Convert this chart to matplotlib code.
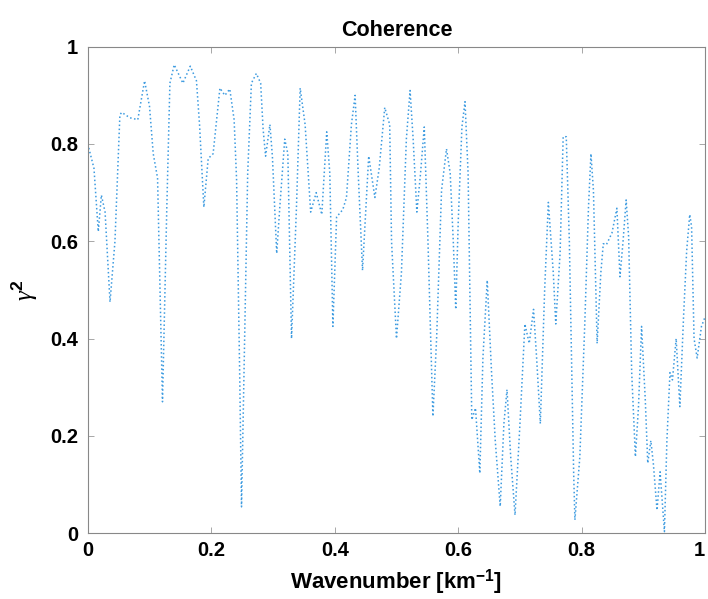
"""Coherence spectrum, redrawn from a scanned MATLAB figure."""
import matplotlib

matplotlib.use("Agg")
import matplotlib.pyplot as plt  # noqa: E402
from matplotlib.transforms import ScaledTranslation  # noqa: E402

plt.rcParams["font.family"] = ["Liberation Sans", "DejaVu Sans"]
plt.rcParams["mathtext.fontset"] = "custom"
plt.rcParams["mathtext.rm"] = "Liberation Sans:bold"
plt.rcParams["mathtext.it"] = "Liberation Serif:italic"
plt.rcParams["mathtext.bf"] = "Liberation Sans:bold"

# values
WAVENUMBER = [
    0.000, 0.010, 0.017, 0.022, 0.028, 0.036, 0.044, 0.052, 0.055, 0.068,
    0.081, 0.092, 0.100, 0.106, 0.113, 0.121, 0.128, 0.133, 0.140, 0.154,
    0.166, 0.176, 0.181, 0.188, 0.195, 0.203, 0.214, 0.222, 0.230, 0.237,
    0.241, 0.246, 0.249, 0.253, 0.259, 0.265, 0.273, 0.280, 0.284, 0.288,
    0.295, 0.299, 0.306, 0.311, 0.319, 0.324, 0.330, 0.338, 0.344, 0.352,
    0.361, 0.370, 0.379, 0.387, 0.392, 0.397, 0.403, 0.413, 0.419, 0.427,
    0.433, 0.438, 0.445, 0.455, 0.465, 0.472, 0.481, 0.489, 0.492, 0.500,
    0.508, 0.516, 0.522, 0.527, 0.533, 0.539, 0.545, 0.551, 0.559, 0.565,
    0.573, 0.581, 0.587, 0.592, 0.596, 0.600, 0.606, 0.611, 0.616, 0.622,
    0.628, 0.635, 0.640, 0.647, 0.654, 0.660, 0.668, 0.674, 0.679, 0.685,
    0.692, 0.700, 0.708, 0.715, 0.722, 0.727, 0.733, 0.740, 0.746, 0.754,
    0.758, 0.765, 0.770, 0.775, 0.780, 0.787, 0.789, 0.797, 0.805, 0.811,
    0.815, 0.819, 0.825, 0.831, 0.835, 0.840, 0.849, 0.857, 0.862, 0.867,
    0.872, 0.876, 0.881, 0.887, 0.892, 0.897, 0.903, 0.907, 0.912, 0.916,
    0.922, 0.927, 0.934, 0.938, 0.943, 0.947, 0.953, 0.959, 0.965, 0.970,
    0.975, 0.978, 0.982, 0.987, 0.994, 1.000,
]
COHERENCE = [
    0.800, 0.750, 0.620, 0.695, 0.660, 0.475, 0.600, 0.860, 0.865, 0.854,
    0.850, 0.930, 0.877, 0.780, 0.730, 0.270, 0.670, 0.925, 0.963, 0.925,
    0.960, 0.930, 0.840, 0.670, 0.770, 0.780, 0.915, 0.900, 0.913, 0.850,
    0.727, 0.330, 0.054, 0.330, 0.740, 0.925, 0.945, 0.925, 0.830, 0.775,
    0.840, 0.775, 0.575, 0.670, 0.810, 0.780, 0.400, 0.670, 0.915, 0.840,
    0.660, 0.700, 0.655, 0.825, 0.740, 0.425, 0.650, 0.665, 0.690, 0.840,
    0.900, 0.740, 0.540, 0.775, 0.690, 0.750, 0.875, 0.840, 0.600, 0.400,
    0.535, 0.810, 0.910, 0.810, 0.660, 0.740, 0.835, 0.600, 0.240, 0.400,
    0.705, 0.790, 0.740, 0.600, 0.460, 0.640, 0.835, 0.887, 0.740, 0.233,
    0.257, 0.123, 0.360, 0.520, 0.330, 0.190, 0.055, 0.225, 0.295, 0.157,
    0.037, 0.225, 0.430, 0.390, 0.460, 0.360, 0.225, 0.500, 0.680, 0.535,
    0.430, 0.575, 0.815, 0.815, 0.600, 0.123, 0.027, 0.157, 0.430, 0.670,
    0.780, 0.705, 0.390, 0.535, 0.595, 0.593, 0.617, 0.668, 0.527, 0.600,
    0.685, 0.610, 0.330, 0.157, 0.260, 0.425, 0.274, 0.144, 0.190, 0.144,
    0.047, 0.126, 0.003, 0.190, 0.330, 0.315, 0.400, 0.260, 0.445, 0.580,
    0.655, 0.630, 0.400, 0.360, 0.425, 0.445,
]
TICKS = [0, 0.2, 0.4, 0.6, 0.8, 1]
TICK_LABELS = ["0", "0.2", "0.4", "0.6", "0.8", "1"]


def main() -> None:
    fig = plt.figure(figsize=(7.08, 5.99), dpi=100)
    ax = fig.add_axes([0.124, 0.110, 0.872, 0.812])
    ax.plot(WAVENUMBER, COHERENCE, linestyle=":", color="#3d9be0", linewidth=1.1)

    ax.set_xlim(0, 1)
    ax.set_ylim(0, 1)
    ax.set_xticks(TICKS)
    ax.set_yticks(TICKS)
    ax.set_xticklabels(TICK_LABELS)
    ax.set_yticklabels(TICK_LABELS)
    ax.tick_params(direction="in", length=4, width=0.6, colors="#999999",
                   top=True, right=True, labelsize=14.5, labelcolor="black")
    ax.tick_params(axis="x", pad=6)
    ax.tick_params(axis="y", pad=7)
    for lbl in ax.get_xticklabels() + ax.get_yticklabels():
        lbl.set_fontweight("bold")
    # last x label sits against the figure edge, as in the scan
    last = ax.get_xticklabels()[-1]
    last.set_transform(last.get_transform()
                       + ScaledTranslation(-4 / 72, 0, fig.dpi_scale_trans))
    for sp in ax.spines.values():
        sp.set_color("#888888")
        sp.set_linewidth(0.8)

    ax.set_title("Coherence", fontsize=15.5, fontweight="bold", pad=8)
    ax.set_xlabel(r"Wavenumber [km$^{\mathbf{-1}}$]", fontsize=16,
                  fontweight="bold", labelpad=5)
    ax.set_ylabel(r"$\gamma^2$", fontsize=18, labelpad=8)

    fig.savefig("out.png", dpi=100)
    plt.close(fig)


if __name__ == "__main__":
    main()
